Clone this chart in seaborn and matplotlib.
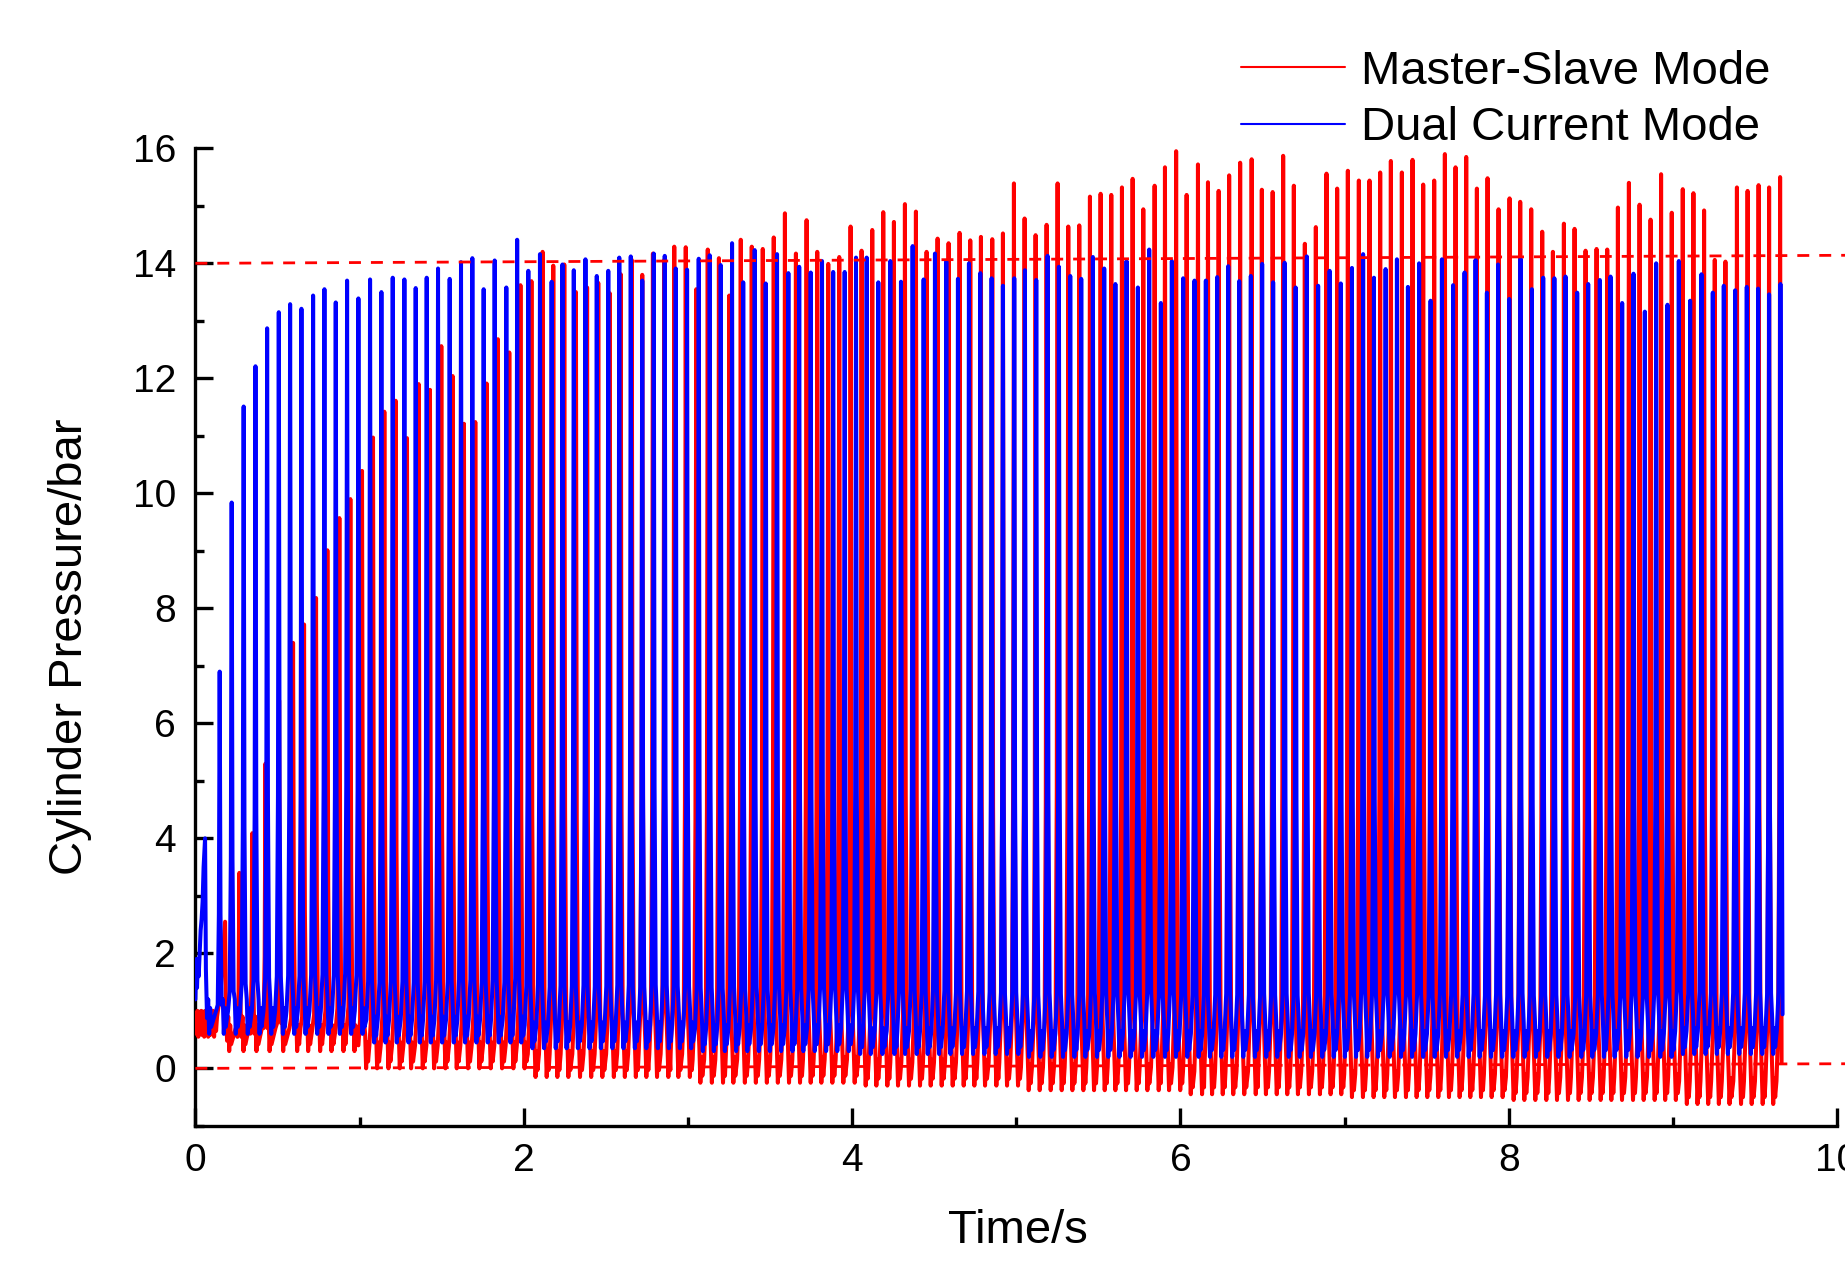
import numpy as np
import pandas as pd
import matplotlib
matplotlib.use("Agg")
import matplotlib.pyplot as plt
import seaborn as sns
from matplotlib.lines import Line2D
from matplotlib.ticker import MultipleLocator

# ---------------- data ----------------
series_names = ["Master-Slave Mode", "Dual Current Mode"]

# Master-Slave Mode (red): peak times (s) and peak pressures (bar)
ms_peak_t = [0.181, 0.268, 0.347, 0.427, 0.510, 0.595, 0.662, 0.735, 0.804, 0.877,
             0.944, 1.015, 1.082, 1.151, 1.220, 1.289, 1.360, 1.429, 1.498, 1.567,
             1.636, 1.705, 1.774, 1.843, 1.912, 1.980, 2.047, 2.115, 2.180, 2.247,
             2.318, 2.386, 2.454, 2.524, 2.591, 2.658, 2.722, 2.787, 2.856, 2.917,
             2.987, 3.051, 3.121, 3.189, 3.252, 3.322, 3.389, 3.456, 3.523, 3.591,
             3.658, 3.723, 3.788, 3.855, 3.922, 3.991, 4.058, 4.123, 4.190, 4.255,
             4.322, 4.389, 4.454, 4.521, 4.588, 4.655, 4.720, 4.785, 4.854, 4.919,
             4.986, 5.051, 5.118, 5.185, 5.252, 5.317, 5.384, 5.449, 5.514, 5.579,
             5.644, 5.709, 5.774, 5.843, 5.906, 5.974, 6.038, 6.107, 6.168, 6.233,
             6.297, 6.364, 6.434, 6.496, 6.562, 6.626, 6.691, 6.758, 6.825, 6.890,
             6.955, 7.020, 7.087, 7.152, 7.217, 7.282, 7.349, 7.414, 7.479, 7.546,
             7.611, 7.676, 7.741, 7.806, 7.871, 7.938, 8.005, 8.070, 8.137, 8.204,
             8.269, 8.336, 8.401, 8.468, 8.535, 8.600, 8.665, 8.732, 8.797, 8.864,
             8.928, 8.993, 9.060, 9.125, 9.190, 9.255, 9.320, 9.390, 9.455, 9.522,
             9.586, 9.653]
ms_peak_p = [2.55, 3.40, 4.09, 5.30, 6.40, 7.40, 7.72, 8.18, 9.01, 9.57,
             9.90, 10.39, 10.97, 11.42, 11.61, 10.96, 11.90, 11.80, 12.56, 12.04,
             11.21, 11.24, 11.91, 12.68, 12.45, 13.62, 13.69, 14.20, 13.96, 13.98,
             13.50, 13.58, 13.66, 13.48, 13.81, 14.06, 13.80, 14.17, 14.06, 14.29,
             14.28, 13.55, 14.24, 14.09, 13.44, 14.41, 14.29, 14.25, 14.45, 14.87,
             14.17, 14.75, 14.20, 13.99, 14.11, 14.64, 14.22, 14.58, 14.89, 14.72,
             15.03, 14.90, 14.20, 14.43, 14.35, 14.53, 14.40, 14.46, 14.42, 14.52,
             15.39, 14.78, 14.49, 14.67, 15.39, 14.64, 14.66, 15.16, 15.21, 15.19,
             15.32, 15.47, 14.94, 15.35, 15.67, 15.95, 15.19, 15.72, 15.41, 15.26,
             15.53, 15.75, 15.81, 15.28, 15.24, 15.87, 15.35, 14.34, 14.63, 15.56,
             15.30, 15.61, 15.44, 15.44, 15.58, 15.78, 15.58, 15.80, 15.37, 15.44,
             15.90, 15.67, 15.85, 15.30, 15.48, 14.94, 15.13, 15.07, 14.94, 14.55,
             14.20, 14.69, 14.60, 14.22, 14.25, 14.24, 14.97, 15.40, 15.02, 14.76,
             15.55, 14.88, 15.29, 15.22, 14.92, 14.06, 14.03, 15.32, 15.26, 15.36,
             15.32, 15.50]
# trough level between pulses, one value per second of the record
ms_trough_by_sec = [0.30, 0.00, -0.15, -0.25, -0.30, -0.38, -0.45, -0.50, -0.55, -0.62]
# noisy start segment and end of the record
ms_start_t = [0.000, 0.006, 0.012, 0.018, 0.024, 0.030, 0.036, 0.042, 0.048, 0.054,
              0.060, 0.066, 0.072, 0.078, 0.084, 0.090, 0.096, 0.102, 0.108, 0.114,
              0.120, 0.126, 0.132, 0.142, 0.155]
ms_start_p = [0.95, 0.60, 1.00, 0.55, 0.95, 0.60, 1.00, 0.58, 0.95, 0.55,
              1.00, 0.60, 0.95, 0.55, 1.00, 0.58, 0.95, 0.60, 1.00, 0.55,
              0.95, 0.65, 0.90, 1.10, 1.40]
ms_end_t = [9.662]
ms_end_p = [0.10]

# Dual Current Mode (blue)
dc_peak_t = [0.059, 0.148, 0.221, 0.294, 0.366, 0.437, 0.508, 0.577, 0.646, 0.717,
             0.786, 0.855, 0.924, 0.993, 1.064, 1.133, 1.202, 1.273, 1.342, 1.409,
             1.478, 1.549, 1.618, 1.687, 1.756, 1.823, 1.894, 1.960, 2.028, 2.099,
             2.170, 2.236, 2.305, 2.376, 2.445, 2.515, 2.582, 2.652, 2.722, 2.792,
             2.859, 2.926, 2.995, 3.066, 3.133, 3.200, 3.269, 3.337, 3.407, 3.474,
             3.543, 3.612, 3.678, 3.748, 3.817, 3.885, 3.955, 4.024, 4.089, 4.160,
             4.233, 4.298, 4.369, 4.436, 4.505, 4.574, 4.645, 4.712, 4.781, 4.850,
             4.919, 4.988, 5.053, 5.122, 5.191, 5.260, 5.329, 5.396, 5.467, 5.536,
             5.604, 5.672, 5.741, 5.810, 5.881, 5.948, 6.017, 6.086, 6.155, 6.224,
             6.291, 6.358, 6.429, 6.498, 6.565, 6.635, 6.702, 6.770, 6.839, 6.909,
             6.977, 7.045, 7.113, 7.179, 7.250, 7.319, 7.386, 7.454, 7.524, 7.593,
             7.661, 7.731, 7.798, 7.867, 7.935, 8.003, 8.072, 8.141, 8.210, 8.278,
             8.346, 8.417, 8.484, 8.555, 8.620, 8.691, 8.760, 8.829, 8.898, 8.967,
             9.036, 9.105, 9.174, 9.243, 9.310, 9.379, 9.450, 9.519, 9.586, 9.655]
dc_peak_p = [4.00, 6.90, 9.84, 11.51, 12.21, 12.87, 13.15, 13.29, 13.21, 13.44,
             13.55, 13.32, 13.70, 13.39, 13.72, 13.50, 13.75, 13.72, 13.57, 13.75,
             13.91, 13.73, 14.02, 14.09, 13.55, 14.05, 13.58, 14.41, 13.87, 14.16,
             13.68, 13.98, 13.88, 14.07, 13.78, 13.87, 14.10, 14.12, 13.70, 14.17,
             14.13, 13.91, 13.89, 14.08, 14.14, 13.97, 14.35, 13.67, 14.23, 13.65,
             14.16, 13.83, 13.94, 13.84, 14.04, 13.85, 13.85, 14.10, 14.10, 13.67,
             14.04, 13.68, 14.30, 13.72, 14.17, 14.03, 13.73, 14.00, 13.83, 13.74,
             13.61, 13.74, 13.88, 13.71, 14.13, 13.94, 13.78, 13.73, 14.11, 13.91,
             13.64, 14.04, 13.58, 14.24, 13.31, 14.04, 13.74, 13.70, 13.70, 13.76,
             13.95, 13.69, 13.78, 13.99, 13.67, 14.01, 13.58, 14.12, 13.61, 13.87,
             13.65, 13.92, 14.16, 13.75, 13.90, 14.07, 13.59, 14.00, 13.35, 14.07,
             13.62, 13.84, 14.06, 13.49, 13.98, 13.38, 14.08, 13.55, 13.75, 13.74,
             13.77, 13.49, 13.64, 13.71, 13.77, 13.31, 13.82, 13.16, 14.00, 13.28,
             14.04, 13.35, 13.81, 13.49, 13.61, 13.53, 13.59, 13.56, 13.46, 13.64]
dc_trough_by_sec = [0.60, 0.45, 0.35, 0.30, 0.25, 0.20, 0.20, 0.20, 0.20, 0.25]
dc_start_t = [0.000, 0.005, 0.010, 0.015, 0.020, 0.026, 0.032, 0.038, 0.044, 0.050]
dc_start_p = [1.20, 1.90, 1.40, 1.90, 1.60, 2.00, 2.40, 2.60, 2.90, 3.50]
dc_end_t = [9.668]
dc_end_p = [0.94]

# reference (dashed) lines
ref_t = [0.0, 10.05]
ref_hi = [14.00, 14.14]
ref_lo = [0.00, 0.08]

x_ticks = [0, 2, 4, 6, 8, 10]
y_ticks = [0, 2, 4, 6, 8, 10, 12, 14, 16]

# ---------------- waveform assembly (pulse shape is styling) ----------------
# (dt from peak, offset above trough, fraction of pulse height)
RISE_SHAPE = [(-0.022, 0.40, 0.0), (-0.012, 0.0, 0.08), (-0.005, 0.0, 0.33)]
FALL_SHAPE = [(0.005, 0.0, 0.33), (0.012, 0.0, 0.08), (0.019, 0.60, 0.0),
              (0.025, 0.0, 0.0), (0.031, 0.45, 0.0), (0.037, 0.12, 0.0)]


def build(peak_t, peak_p, trough_by_sec, start_t, start_p, end_t, end_p):
    ts, ps = list(start_t), list(start_p)
    n = len(peak_t)
    for i in range(n):
        tp, vp = peak_t[i], peak_p[i]
        tr = trough_by_sec[int(tp)]
        if i > 0:
            for dt, off, fr in RISE_SHAPE:
                ts.append(tp + dt)
                ps.append(tr + off + fr * (vp - tr))
        ts.append(tp)
        ps.append(vp)
        if i < n - 1:
            for dt, off, fr in FALL_SHAPE:
                ts.append(tp + dt)
                ps.append(tr + off + fr * (vp - tr))
    ts += list(end_t)
    ps += list(end_p)
    return ts, ps


ms_t, ms_p = build(ms_peak_t, ms_peak_p, ms_trough_by_sec, ms_start_t, ms_start_p, ms_end_t, ms_end_p)
dc_t, dc_p = build(dc_peak_t, dc_peak_p, dc_trough_by_sec, dc_start_t, dc_start_p, dc_end_t, dc_end_p)
df_ms = pd.DataFrame({"t": ms_t, "p": ms_p})
df_dc = pd.DataFrame({"t": dc_t, "p": dc_p})

# ---------------- plotting ----------------
sns.set_style("ticks")
plt.rcParams["font.family"] = ["Liberation Sans", "DejaVu Sans"]
plt.rcParams["text.color"] = "black"
plt.rcParams["axes.labelcolor"] = "black"
plt.rcParams["xtick.color"] = "black"
plt.rcParams["ytick.color"] = "black"

fig = plt.figure(figsize=(18.45, 12.7), dpi=100)
ax = fig.add_axes([0.1059, 0.1135, 0.8898, 0.7697])

RED = "#ff0000"
BLUE = "#0000ff"
LW = 2.9

sns.lineplot(data=df_ms, x="t", y="p", estimator=None, sort=False, color=RED,
             linewidth=LW, ax=ax, legend=False, zorder=3)
sns.lineplot(data=df_dc, x="t", y="p", estimator=None, sort=False, color=BLUE,
             linewidth=LW, ax=ax, legend=False, zorder=4)

for ref in (ref_hi, ref_lo):
    ax.plot(ref_t, ref, color=RED, linewidth=2.0, dashes=(4.3, 3.6), zorder=5, clip_on=False)

ax.set_xlim(0, 10)
ax.set_ylim(-1, 16)
ax.set_xticks(x_ticks)
ax.set_yticks(y_ticks)
ax.xaxis.set_minor_locator(MultipleLocator(1))
ax.yaxis.set_minor_locator(MultipleLocator(1))

for side in ("top", "right"):
    ax.spines[side].set_visible(False)
for side in ("left", "bottom"):
    ax.spines[side].set_linewidth(2.4)
    ax.spines[side].set_color("black")

ax.tick_params(axis="both", which="major", direction="in", length=13, width=2.4,
               labelsize=28, colors="black", labelcolor="black")
ax.tick_params(axis="both", which="minor", direction="in", length=6.5, width=2.4,
               colors="black")
ax.tick_params(axis="y", which="major", pad=14)
ax.tick_params(axis="x", which="major", pad=12)

ax.set_xlabel("Time/s", fontsize=34, color="black")
ax.set_ylabel("Cylinder Pressure/bar", fontsize=34, color="black")
ax.xaxis.set_label_coords(0.501, -0.085)
ax.yaxis.set_label_coords(-0.063, 0.49)

handles = [Line2D([0], [0], color=RED, lw=1.5), Line2D([0], [0], color=BLUE, lw=1.5)]
leg = ax.legend(handles, series_names, loc="upper left", bbox_to_anchor=(0.6727, 0.961),
                bbox_transform=fig.transFigure, frameon=False, fontsize=34,
                handlelength=2.2, handletextpad=0.34, labelspacing=0.27, borderpad=0,
                borderaxespad=0, labelcolor="black")

fig.savefig("out.png", dpi=100)
